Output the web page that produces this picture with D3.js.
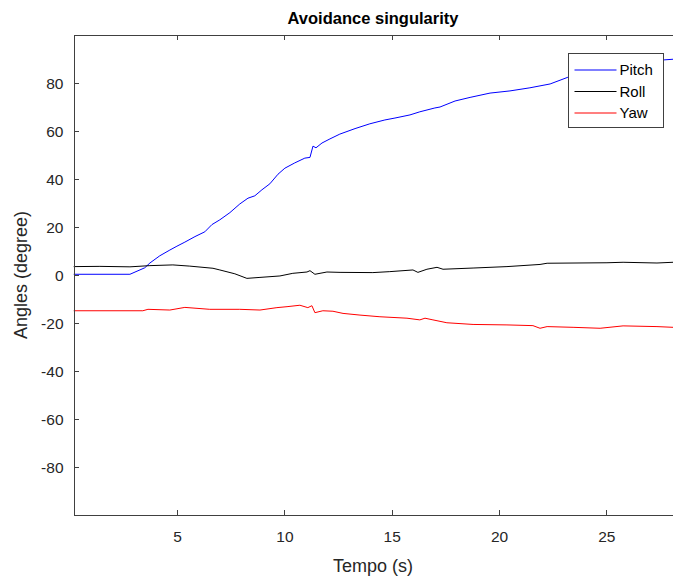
<!DOCTYPE html>
<html>
<head>
<meta charset="utf-8">
<script src="https://cdn.jsdelivr.net/npm/d3@7"></script>
<style>
  body { margin: 0; background: #fff; }
  svg { font-family: "Liberation Sans", Arial, sans-serif; }
</style>
</head>
<body>
<div id="root"></div>
<script>
const w = 673;
const h = 583;
const padLeft = 73.5, padRight = 675, padTop = 35, padBottom = 515;

// data
const pitchT = [0.18, 2.8, 3.49, 3.73, 4.19, 4.66, 4.99, 5.36, 5.83, 6.29, 6.62, 6.99, 7.46, 7.92, 8.3, 8.62, 8.95, 9.32, 9.7, 10.02, 10.48, 10.95, 11.19, 11.33, 11.47, 11.75, 12.12, 12.58, 13.29, 13.98, 14.68, 15.15, 15.85, 16.31, 17.01, 17.25, 17.95, 18.65, 19.58, 20.51, 21.44, 22.38, 23.21, 24.71, 26.1, 27.64, 28.11];
const pitchV = [0.3, 0.3, 3, 5, 8, 10.4, 12, 13.7, 16, 18, 21, 23, 26, 29.6, 32, 33, 35.5, 38, 42, 44.5, 46.7, 48.7, 49, 53.7, 53, 55, 56.7, 58.7, 61, 63, 64.6, 65.4, 66.7, 68, 69.6, 70, 72.5, 74, 75.8, 76.7, 78, 79.6, 82.4, 84.5, 87.5, 89.6, 89.9];

const rollT = [0.18, 1.4, 2.8, 3.73, 4.8, 5.59, 6.67, 6.99, 7.69, 8.25, 8.86, 9.79, 10.39, 11.05, 11.19, 11.42, 11.98, 12.59, 14.12, 14.91, 15.99, 16.22, 16.64, 17.11, 17.39, 18.79, 20.37, 21.91, 22.24, 25.03, 25.78, 27.36, 28.11];
const rollV = [3.5, 3.6, 3.4, 3.9, 4.2, 3.7, 2.8, 2.1, 0.5, -1.4, -1.0, -0.4, 0.7, 1.25, 1.8, 0.3, 1.25, 1.1, 1.0, 1.4, 2.1, 1.1, 2.4, 3.2, 2.4, 2.9, 3.5, 4.4, 4.9, 5.1, 5.3, 5.0, 5.3];

const yawT = [0.18, 3.4, 3.64, 4.66, 5.36, 6.52, 7.92, 8.86, 9.65, 10.12, 10.72, 11.09, 11.28, 11.42, 11.79, 12.26, 12.73, 13.52, 14.45, 15.71, 16.31, 16.55, 16.92, 17.57, 18.79, 20.37, 21.58, 21.91, 22.24, 23.45, 24.71, 25.78, 27.36, 28.11];
const yawV = [-14.9, -14.9, -14.3, -14.6, -13.5, -14.3, -14.3, -14.6, -13.6, -13.2, -12.6, -13.6, -12.8, -15.7, -14.9, -15.1, -16.0, -16.7, -17.4, -18.0, -18.7, -18.0, -18.7, -19.9, -20.6, -20.8, -21.1, -22.2, -21.5, -21.8, -22.2, -21.2, -21.5, -21.8];

const seriesNames = ["Pitch", "Roll", "Yaw"];
const seriesColors = ["#0000ff", "#000000", "#ff0000"];
const xTicks = [5, 10, 15, 20, 25];
const yTicks = [-80, -60, -40, -20, 0, 20, 40, 60, 80];

const zip = (ts, vs) => ts.map((t, i) => [t, vs[i]]);
const series = [zip(pitchT, pitchV), zip(rollT, rollV), zip(yawT, yawV)];

const xScale = d3.scaleLinear().domain([0.17, 28.2]).range([padLeft, padRight]);
const yScale = d3.scaleLinear().domain([-100, 100]).range([padBottom, padTop]);

const svg = d3.select("#root").append("svg")
    .attr("width", w)
    .attr("height", h);

const axisColor = "#404040";
const textColor = "#262626";

// lines
const line = d3.line().x(d => xScale(d[0])).y(d => yScale(d[1]));
svg.selectAll("path.series")
    .data(series)
    .enter()
    .append("path")
    .attr("class", "series")
    .attr("d", line)
    .attr("fill", "none")
    .style("stroke", (d, i) => seriesColors[i])
    .attr("stroke-width", 1);

// x-axis bottom (ticks inward)
const xAxis = d3.axisBottom(xScale).tickValues(xTicks).tickSizeInner(-5).tickSizeOuter(0).tickPadding(16).tickFormat(d => String(d));
const gx = svg.append("g")
    .attr("transform", "translate(0," + padBottom + ")")
    .call(xAxis);
// top border
const gxTop = svg.append("g")
    .attr("transform", "translate(0," + padTop + ")")
    .call(d3.axisTop(xScale).tickValues(xTicks).tickSizeInner(-5).tickSizeOuter(0).tickFormat(""));

// y-axis (ticks inward), hyphen minus like the original
const yAxis = d3.axisLeft(yScale).tickValues(yTicks).tickSizeInner(-5).tickSizeOuter(0).tickPadding(10).tickFormat(d => String(d));
const gy = svg.append("g")
    .attr("transform", "translate(" + padLeft + ",0)")
    .call(yAxis);

[gx, gxTop, gy].forEach(g => {
    g.select(".domain").attr("stroke", axisColor).attr("shape-rendering", "crispEdges");
    g.selectAll(".tick line").attr("stroke", axisColor).attr("shape-rendering", "crispEdges");
    g.selectAll(".tick text").attr("fill", textColor).style("font-size", "15.5px");
});
gy.selectAll(".tick text").attr("dy", "0.35em");

// title
svg.append("text")
    .attr("x", 373)
    .attr("y", 24)
    .attr("text-anchor", "middle")
    .attr("fill", "#000")
    .style("font-size", "16.5px")
    .style("font-weight", "bold")
    .text("Avoidance singularity");

// x label
svg.append("text")
    .attr("x", 373)
    .attr("y", 572)
    .attr("text-anchor", "middle")
    .attr("fill", textColor)
    .style("font-size", "18px")
    .text("Tempo (s)");

// y label
svg.append("text")
    .attr("transform", "translate(27," + ((padTop + padBottom) / 2) + ") rotate(-90)")
    .attr("text-anchor", "middle")
    .attr("fill", textColor)
    .style("font-size", "18px")
    .text("Angles (degree)");

// legend
const legend = svg.append("g").attr("transform", "translate(568.5,53.5)");
legend.append("rect")
    .attr("width", 95)
    .attr("height", 74)
    .attr("fill", "#fff")
    .attr("stroke", axisColor)
    .attr("stroke-width", 1);
seriesNames.forEach((name, i) => {
    const yy = 16.5 + i * 21.5;
    legend.append("path")
        .attr("d", "M6," + yy + "H48")
        .style("stroke", seriesColors[i])
        .style("stroke-width", 1.2)
        .attr("fill", "none");
    legend.append("text")
        .attr("x", 51)
        .attr("y", yy)
        .attr("dy", "0.35em")
        .attr("fill", "#000")
        .style("font-size", "15px")
        .text(name);
});
</script>
</body>
</html>
